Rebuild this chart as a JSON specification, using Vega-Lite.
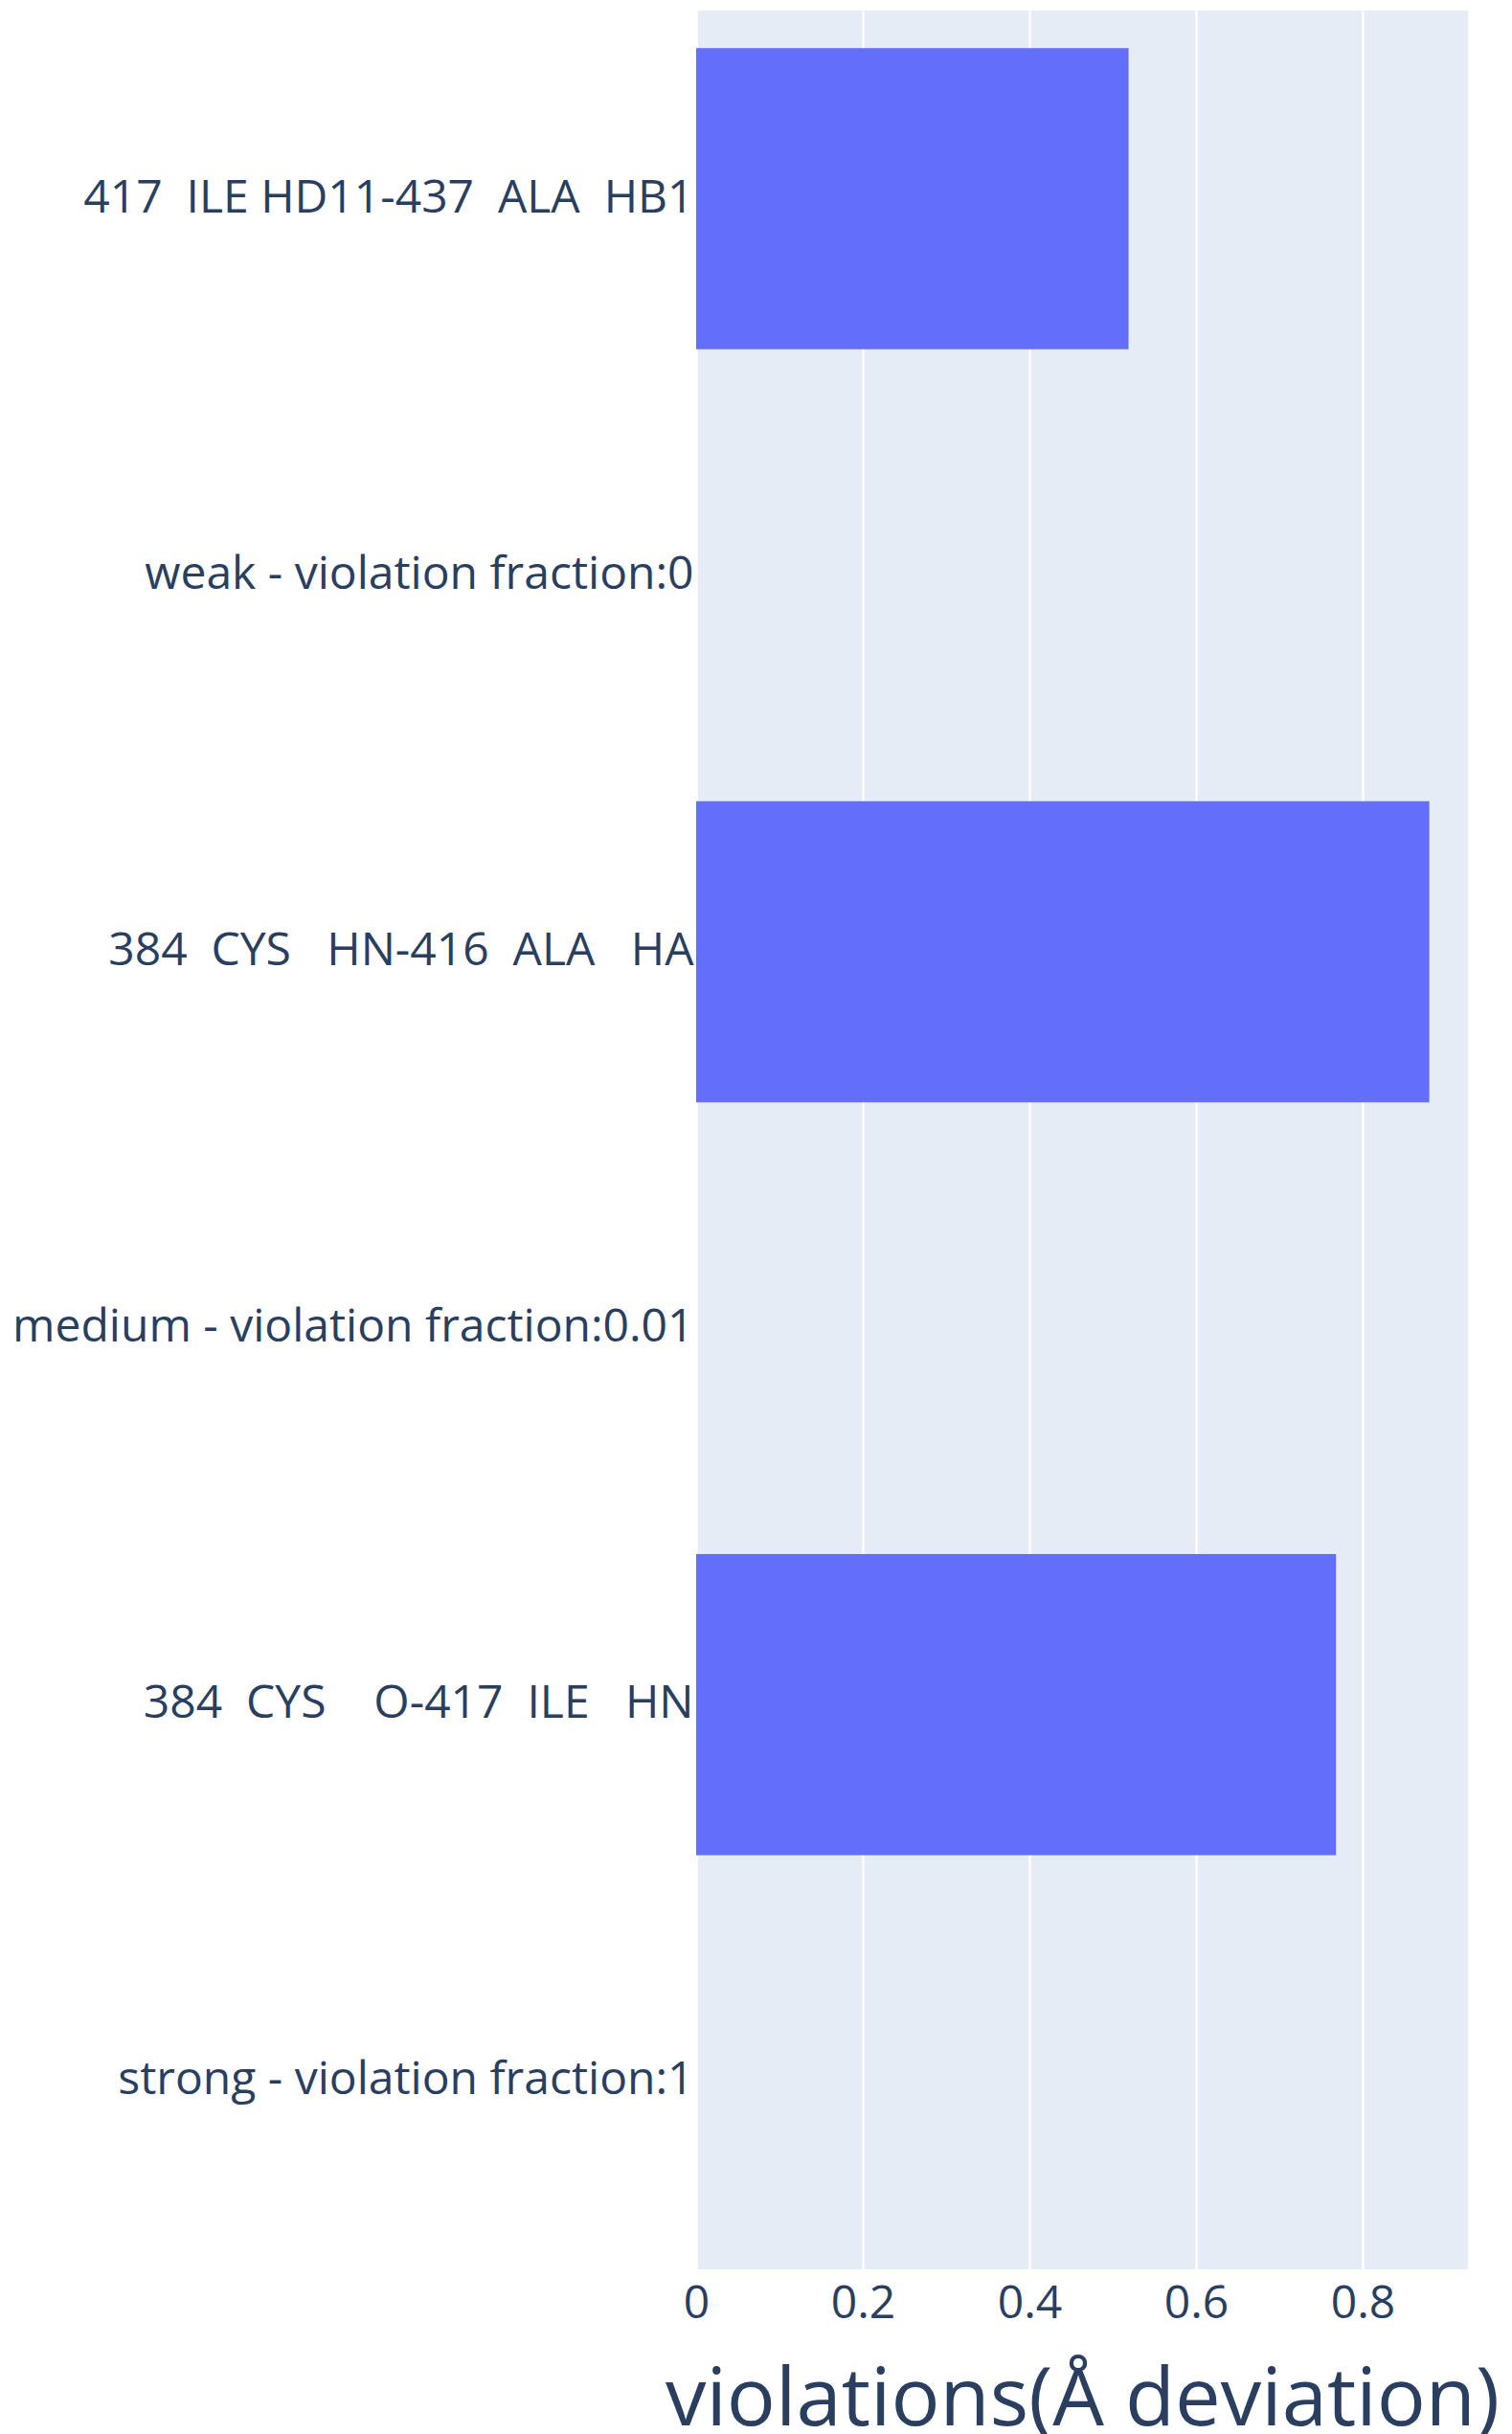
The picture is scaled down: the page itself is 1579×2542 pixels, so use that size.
{
  "$schema": "https://vega.github.io/schema/vega-lite/v6.json",
  "autosize": {"type": "none"},
  "padding": {"left": 727, "top": 11, "right": 46, "bottom": 172},
  "width": 806,
  "height": 2359,
  "background": "white",
  "config": {"view": {"fill": "#E5ECF6", "stroke": null}, "font": "Open Sans"},
  "data": {
    "values": [
      {"label": "417  ILE HD11-437  ALA  HB1", "violation": 0.519},
      {"label": "weak - violation fraction:0", "violation": 0},
      {"label": "384  CYS   HN-416  ALA   HA", "violation": 0.880},
      {"label": "medium - violation fraction:0.01", "violation": 0},
      {"label": "384  CYS    O-417  ILE   HN", "violation": 0.768},
      {"label": "strong - violation fraction:1", "violation": 0}
    ]
  },
  "mark": {"type": "bar", "color": "#636efa"},
  "encoding": {
    "y": {
      "field": "label",
      "type": "nominal",
      "sort": null,
      "scale": {"paddingInner": 0.2, "paddingOuter": 0.1},
      "axis": {
        "title": null,
        "ticks": false,
        "domain": false,
        "labelFontSize": 48,
        "labelColor": "#2a3f5f",
        "labelPadding": 3,
        "labelLimit": 2000,
        "labelExpr": "replace(datum.label, / /g, '\u00a0')"
      }
    },
    "x": {
      "field": "violation",
      "type": "quantitative",
      "scale": {"domain": [0, 0.9264], "nice": false, "zero": true},
      "axis": {
        "values": [0, 0.2, 0.4, 0.6, 0.8],
        "format": "~g",
        "grid": true,
        "gridColor": "white",
        "gridWidth": 2.5,
        "ticks": false,
        "domain": false,
        "labelFontSize": 48,
        "labelColor": "#2a3f5f",
        "labelPadding": 12,
        "labelFlush": false,
        "labelOverlap": false,
        "title": "violations(Å deviation)",
        "titleFontSize": 85,
        "titleFontWeight": "normal",
        "titleColor": "#2a3f5f",
        "titleBaseline": "alphabetic",
        "titleY": 162,
        "titleX": 403
      }
    }
  }
}
